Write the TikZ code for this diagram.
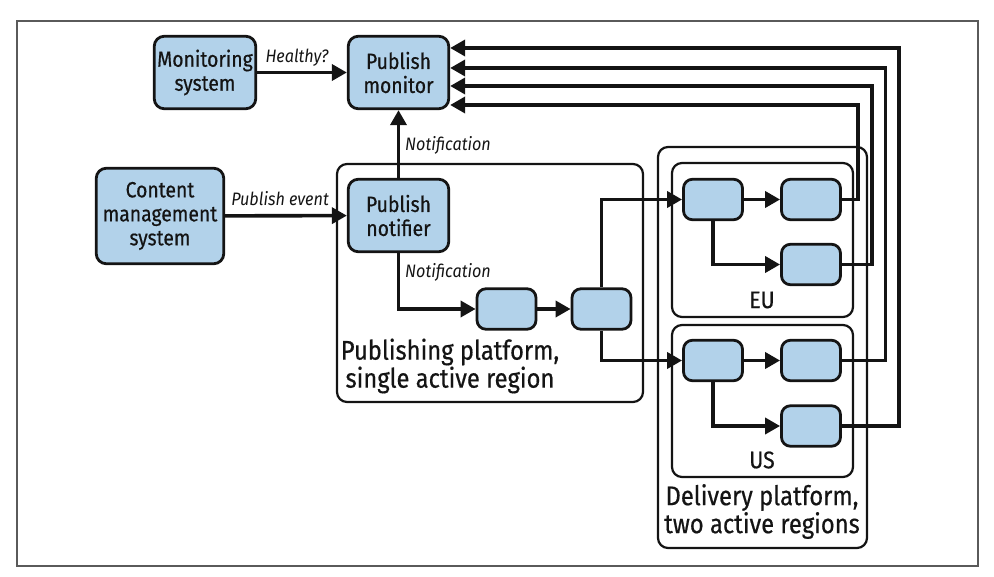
\documentclass[tikz,border=0pt]{standalone}
\usepackage{fontspec}
\setmainfont{Fira Sans}[FakeStretch=0.9]
\newfontfamily\boxfont{Fira Sans}[FakeStretch=0.88,FakeBold=0.5]
\usetikzlibrary{arrows.meta,calc}
\definecolor{boxblue}{RGB}{178,210,234}
\definecolor{ink}{RGB}{20,20,20}
\definecolor{framegray}{RGB}{90,90,90}
\begin{document}
\begin{tikzpicture}[x=1pt,y=-1pt,
  box/.style={draw=ink, line width=2.8pt, fill=boxblue, rounded corners=10pt, align=center,
    inner sep=0pt, text=ink, font=\boxfont\fontsize{22}{24}\selectfont},
  small/.style={draw=ink, line width=2.8pt, fill=boxblue, rounded corners=9pt,
    minimum width=59pt, minimum height=40.5pt, inner sep=0pt},
  cont/.style={draw=ink, line width=2.2pt, rounded corners=10pt},
  arr/.style={draw=ink, line width=3.6pt, -{Triangle[length=15pt,width=16pt]}},
  lab/.style={text=ink, font=\itshape\fontsize{18}{20}\selectfont, inner sep=0pt},
  biglab/.style={text=ink, align=center, inner sep=0pt, font=\boxfont\fontsize{27}{28}\selectfont},
  reglab/.style={text=ink, inner sep=0pt, font=\boxfont\fontsize{24}{26}\selectfont}
]
\useasboundingbox (0,0) rectangle (994,577);
% outer frame
\draw[framegray, line width=1.2pt] (17,21) rectangle (978,566);
% containers
\draw[cont] (337,164) rectangle (643,402);
\draw[cont] (658,147) rectangle (867,548);
\draw[cont] (672,163) rectangle (853,317);
\draw[cont] (672,325) rectangle (853,477);
% main boxes
\node[box, minimum width=101.5pt, minimum height=72.5pt] (mon) at (205,72.5) {Monitoring\\system};
\node[box, minimum width=100.5pt, minimum height=72.5pt] (pm) at (398.5,72.5) {Publish\\monitor};
\node[box, minimum width=127.5pt, minimum height=95.5pt] (cms) at (160,216) {Content\\management\\system};
\node[box, minimum width=100.5pt, minimum height=72.5pt] (pn) at (398.5,215.5) {Publish\\notifier};
% small boxes
\node[small] (p1) at (506.5,309) {};
\node[small] (p2) at (601.5,309) {};
\node[small] (ea) at (713,199.5) {};
\node[small] (eb) at (811,199.5) {};
\node[small] (ec) at (811,264.5) {};
\node[small] (ua) at (713,360.5) {};
\node[small] (ub) at (811,360.5) {};
\node[small] (uc) at (811,426) {};
% region labels
\node[reglab] (eulab) at (762,300) {EU};
\node[reglab] (uslab) at (762,460) {US};
\node[biglab] (publab) at (450,366) {Publishing platform,\\single active region};
\node[biglab] (dellab) at (762,511.5) {Delivery platform,\\two active regions};
% connectors
\draw[arr] (mon) -- (pm);
\node[lab] (healthy) at (297,58) {Healthy?};
\draw[arr] (cms) -- (pn);
\node[lab] (pubev) at (280,199) {Publish event};
\draw[arr] (pn) -- (pm);
\node[lab, anchor=west] (notif1) at (405,145) {Notification};
\draw[arr] (pn.south) |- (p1.west);
\node[lab, anchor=west] (notif2) at (405,272) {Notification};
\draw[arr] (p1) -- (p2);
\draw[arr] (p2.north) |- (ea.west);
\draw[arr] (p2.south) |- (ua.west);
\draw[arr] (ea) -- (eb);
\draw[arr] (ea.south) |- (ec.west);
\draw[arr] (ua) -- (ub);
\draw[arr] (ua.south) |- (uc.west);
% return lines to publish monitor
\coordinate (r1) at (858,105);
\coordinate (r2) at (872,86);
\coordinate (r3) at (885.5,68);
\coordinate (r4) at (899,48);
\draw[arr] (eb.east) -| (r1) -- (pm.east |- r1);
\draw[arr] (ec.east) -| (r2) -- (pm.east |- r2);
\draw[arr] (ub.east) -| (r3) -- (pm.east |- r3);
\draw[arr] (uc.east) -| (r4) -- (pm.east |- r4);
\end{tikzpicture}
\end{document}
